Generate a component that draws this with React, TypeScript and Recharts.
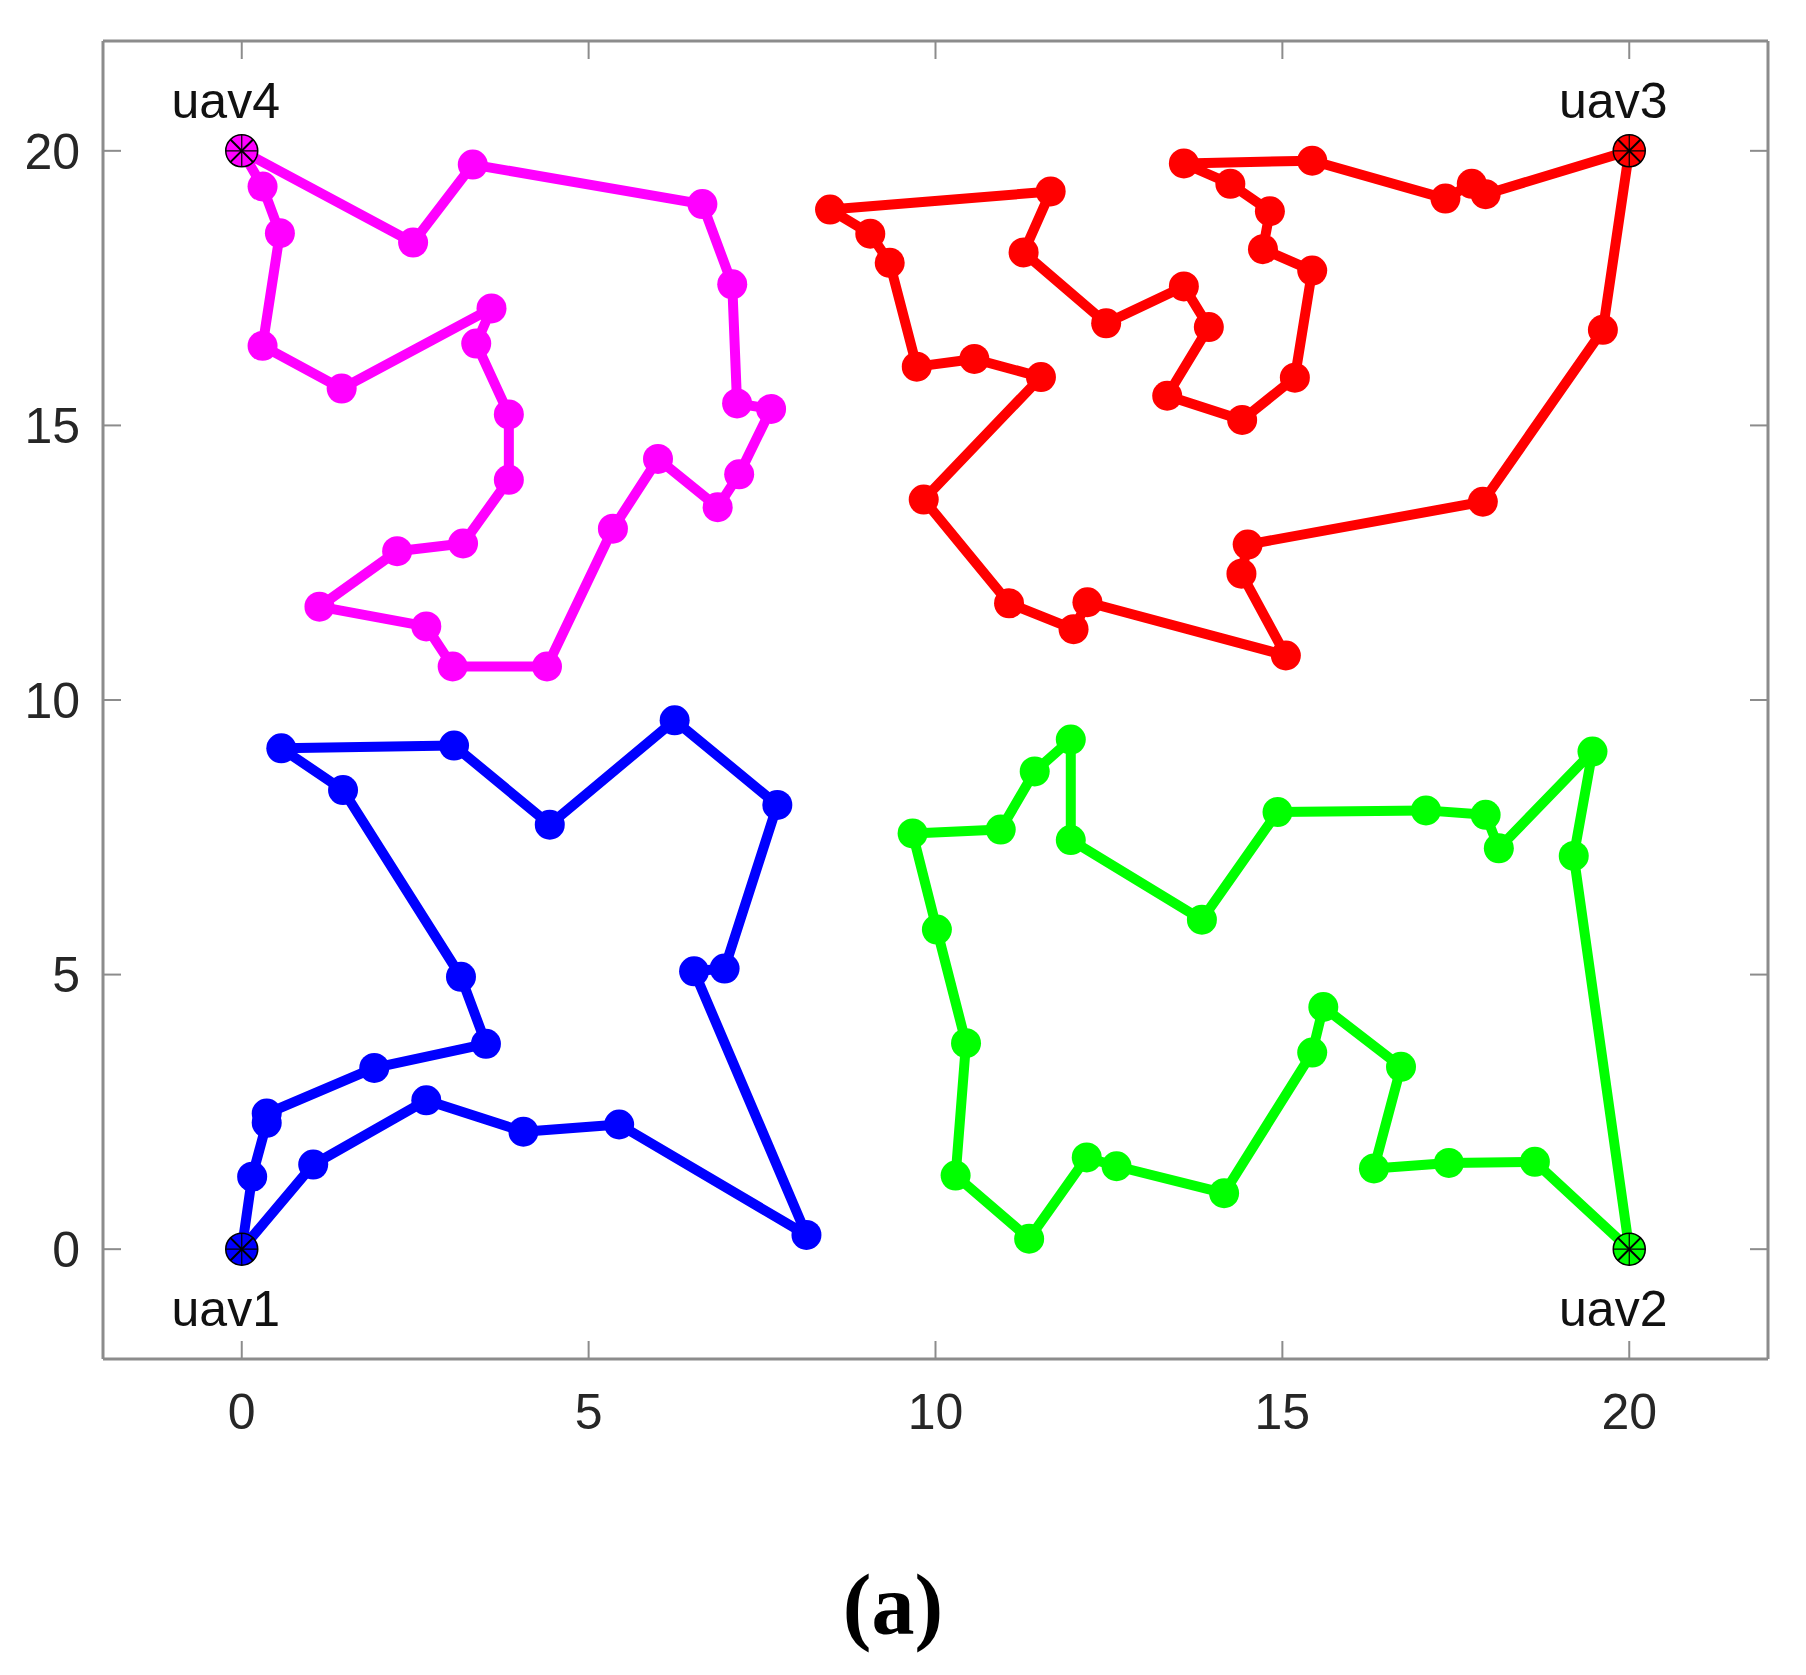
import React from 'react';
import { ScatterChart, Scatter, XAxis, YAxis } from 'recharts';

// axis setup (both axes share the same range)
const AXIS_DOMAIN = [-2, 22];
const AXIS_TICKS = [0, 5, 10, 15, 20];

// routes, in visiting order, each starting at the uav's base
const uav1Route = [
  [0, 0], [0.15, 1.32], [0.36, 2.3], [0.36, 2.47], [1.91, 3.3], [3.52, 3.74],
  [3.16, 4.96], [1.46, 8.36], [0.57, 9.12], [3.06, 9.17], [4.44, 7.73],
  [6.24, 9.63], [7.72, 8.09], [6.96, 5.11], [6.52, 5.06], [8.14, 0.26],
  [5.44, 2.27], [4.06, 2.14], [2.66, 2.71], [1.03, 1.54],
];

const uav2Route = [
  [20, 0], [18.64, 1.59], [17.4, 1.57], [16.32, 1.47], [16.71, 3.32],
  [15.59, 4.41], [15.43, 3.58], [14.16, 1.02], [12.61, 1.51], [12.18, 1.67],
  [11.35, 0.19], [10.29, 1.34], [10.44, 3.75], [10.02, 5.82], [9.67, 7.57],
  [10.94, 7.64], [11.43, 8.7], [11.95, 9.28], [11.95, 7.45], [13.84, 6.0],
  [14.93, 7.96], [17.07, 7.99], [17.93, 7.91], [18.12, 7.3], [19.47, 9.06],
  [19.2, 7.16],
];

const uav3Route = [
  [20, 20], [17.93, 19.21], [17.73, 19.4], [17.35, 19.13], [15.43, 19.82],
  [13.58, 19.77], [14.25, 19.4], [14.82, 18.9], [14.72, 18.21], [15.43, 17.82],
  [15.18, 15.87], [14.42, 15.1], [13.34, 15.54], [13.94, 16.79], [13.58, 17.53],
  [12.46, 16.86], [11.27, 18.15], [11.66, 19.26], [8.48, 18.93], [9.06, 18.49],
  [9.34, 17.96], [9.73, 16.07], [10.56, 16.21], [11.52, 15.88], [9.83, 13.65],
  [11.06, 11.76], [11.99, 11.29], [12.19, 11.78], [15.05, 10.81], [14.41, 12.3],
  [14.5, 12.83], [17.89, 13.61], [19.62, 16.74],
];

const uav4Route = [
  [0, 20], [0.3, 19.35], [0.55, 18.5], [0.3, 16.45], [1.44, 15.67], [3.6, 17.13],
  [3.38, 16.49], [3.85, 15.2], [3.85, 14.01], [3.19, 12.85], [2.24, 12.71],
  [1.12, 11.7], [2.66, 11.34], [3.04, 10.61], [4.4, 10.61], [5.35, 13.12],
  [6.0, 14.39], [6.86, 13.51], [7.17, 14.11], [7.63, 15.3], [7.14, 15.4],
  [7.07, 17.57], [6.64, 19.03], [3.33, 19.75], [2.47, 18.33],
];

const UAV_NAMES = ['uav1', 'uav2', 'uav3', 'uav4'];
const CAPTION = '(a)';

const COLORS = ['#0000ff', '#00ff00', '#ff0000', '#ff00ff'];
const AXIS_COLOR = '#8c8c8c';
const FONT = '"Liberation Sans", Arial, Helvetica, sans-serif';

// close each loop by going back to the base
const routes = [uav1Route, uav2Route, uav3Route, uav4Route].map((r) =>
  [...r, r[0]].map(([x, y]) => ({ x, y }))
);

const starts = [uav1Route, uav2Route, uav3Route, uav4Route].map((r, i) => ({
  x: r[0][0],
  y: r[0][1],
  name: UAV_NAMES[i],
  color: COLORS[i],
}));

function StartMarker(props: any) {
  const { cx, cy, payload } = props;
  const r = 16;
  const d = r * 0.707;
  const below = payload.y < 10;
  return (
    <g>
      <circle cx={cx} cy={cy} r={r} fill={payload.color} stroke="#000" strokeWidth={1.5} />
      <line x1={cx - r} y1={cy} x2={cx + r} y2={cy} stroke="#000" strokeWidth={1.2} />
      <line x1={cx} y1={cy - r} x2={cx} y2={cy + r} stroke="#000" strokeWidth={1.2} />
      <line x1={cx - d} y1={cy - d} x2={cx + d} y2={cy + d} stroke="#000" strokeWidth={2} />
      <line x1={cx - d} y1={cy + d} x2={cx + d} y2={cy - d} stroke="#000" strokeWidth={2} />
      <text
        x={cx - 16}
        y={below ? cy + 77 : cy - 33}
        textAnchor="middle"
        fontSize={50}
        fontFamily={FONT}
        fill="#111"
      >
        {payload.name}
      </text>
    </g>
  );
}

export default function App() {
  const tickStyle = { fontSize: 50, fill: '#262626', fontFamily: FONT };
  const axisLine = { stroke: AXIS_COLOR, strokeWidth: 3 };
  const tickLine = { stroke: AXIS_COLOR, strokeWidth: 2 };

  return (
    <div style={{ fontFamily: FONT }}>
      <ScatterChart
        width={1790}
        height={1451}
        margin={{ top: 31, right: 28, bottom: 0, left: 0 }}
      >
        <XAxis
          dataKey="x"
          type="number"
          domain={AXIS_DOMAIN}
          ticks={AXIS_TICKS}
          allowDataOverflow
          interval={0}
          height={100}
          tickSize={-18}
          tickMargin={52}
          axisLine={axisLine}
          tickLine={tickLine}
          tick={tickStyle}
        />
        <XAxis
          xAxisId="top"
          orientation="top"
          dataKey="x"
          type="number"
          domain={AXIS_DOMAIN}
          ticks={AXIS_TICKS}
          allowDataOverflow
          interval={0}
          height={2}
          tickSize={-18}
          tickFormatter={() => ''}
          axisLine={axisLine}
          tickLine={tickLine}
        />
        <YAxis
          dataKey="y"
          type="number"
          domain={AXIS_DOMAIN}
          ticks={AXIS_TICKS}
          allowDataOverflow
          interval={0}
          width={95}
          tickSize={-18}
          tickMargin={41}
          axisLine={axisLine}
          tickLine={tickLine}
          tick={tickStyle}
        />
        <YAxis
          yAxisId="right"
          orientation="right"
          dataKey="y"
          type="number"
          domain={AXIS_DOMAIN}
          ticks={AXIS_TICKS}
          allowDataOverflow
          interval={0}
          width={2}
          tickSize={-18}
          tickFormatter={() => ''}
          axisLine={axisLine}
          tickLine={tickLine}
        />
        {routes.map((data, i) => (
          <Scatter
            key={UAV_NAMES[i]}
            name={UAV_NAMES[i]}
            data={data}
            fill={COLORS[i]}
            line={{ stroke: COLORS[i], strokeWidth: 10, strokeLinejoin: 'round' }}
            shape={(p: any) => <circle cx={p.cx} cy={p.cy} r={15} fill={COLORS[i]} />}
            isAnimationActive={false}
          />
        ))}
        <Scatter
          name="bases"
          data={starts}
          fill="#000"
          shape={StartMarker}
          isAnimationActive={false}
        />
      </ScatterChart>
      <div
        style={{
          width: 1770,
          marginTop: 96,
          textAlign: 'center',
          fontFamily: '"Liberation Serif", "Times New Roman", serif',
          fontWeight: 700,
          fontSize: 86,
          lineHeight: '100px',
          color: '#000',
        }}
      >
        {CAPTION}
      </div>
    </div>
  );
}
